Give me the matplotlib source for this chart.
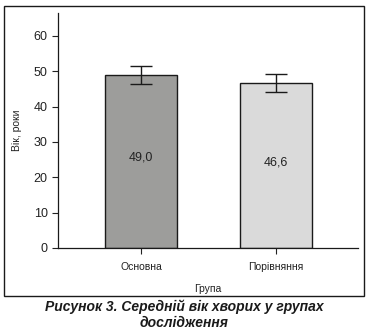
import matplotlib
matplotlib.use("Agg")
import matplotlib.pyplot as plt
from matplotlib.patches import Rectangle

# — Data —
groups = ["Основна", "Порівняння"]
means = [49.0, 46.6]
errs = [2.6, 2.5]
labels = ["49,0", "46,6"]
colors = ["#9d9d9b", "#dadada"]
yticks = [0, 10, 20, 30, 40, 50, 60]

plt.rcParams["font.family"] = ["Liberation Sans", "DejaVu Sans"]

W, H = 368, 334
fig = plt.figure(figsize=(W / 100, H / 100), dpi=100)
ax = fig.add_axes([58 / W, 1 - 248 / H, 300 / W, 235 / H])

x = list(range(len(groups)))
ax.bar(x, means, width=0.53, color=colors, edgecolor="#1a1a1a", linewidth=1.0)
ax.errorbar(x, means, yerr=errs, fmt="none", ecolor="#1a1a1a",
            elinewidth=1.0, capsize=8, capthick=1.0)

for xi, m, lab in zip(x, means, labels):
    ax.text(xi, m / 2 + 1, lab, ha="center", va="center", fontsize=9, color="#222222")

ax.set_xlim(-0.615, 1.607)
ax.set_ylim(0, 66.5)
ax.set_yticks(yticks)
ax.set_xticks(x)
ax.set_xticklabels(groups, fontsize=7.5)
ax.tick_params(axis="y", labelsize=9, colors="#222222", length=4, width=0.8)
ax.tick_params(axis="x", length=4, width=0.8, pad=6, colors="#222222")
ax.set_ylabel("Вік, роки", fontsize=7.5, color="#222222", labelpad=8)
ax.set_xlabel("Група", fontsize=7.5, color="#222222", labelpad=9)

for s in ["top", "right"]:
    ax.spines[s].set_visible(False)
for s in ["left", "bottom"]:
    ax.spines[s].set_linewidth(0.9)
    ax.spines[s].set_color("#1a1a1a")

# frame around the chart
fig.patches.append(Rectangle((4 / W, 1 - 296 / H), 360 / W, 290 / H,
                             transform=fig.transFigure, fill=False,
                             edgecolor="#1a1a1a", linewidth=1.0))

fig.text(0.5, 1 - 307 / H, "Рисунок 3. Середній вік хворих у групах",
         ha="center", va="center", fontsize=10, fontweight="bold",
         fontstyle="italic", color="#1a1a1a")
fig.text(0.5, 1 - 323 / H, "дослідження",
         ha="center", va="center", fontsize=10, fontweight="bold",
         fontstyle="italic", color="#1a1a1a")

fig.savefig("out.png", dpi=100)
